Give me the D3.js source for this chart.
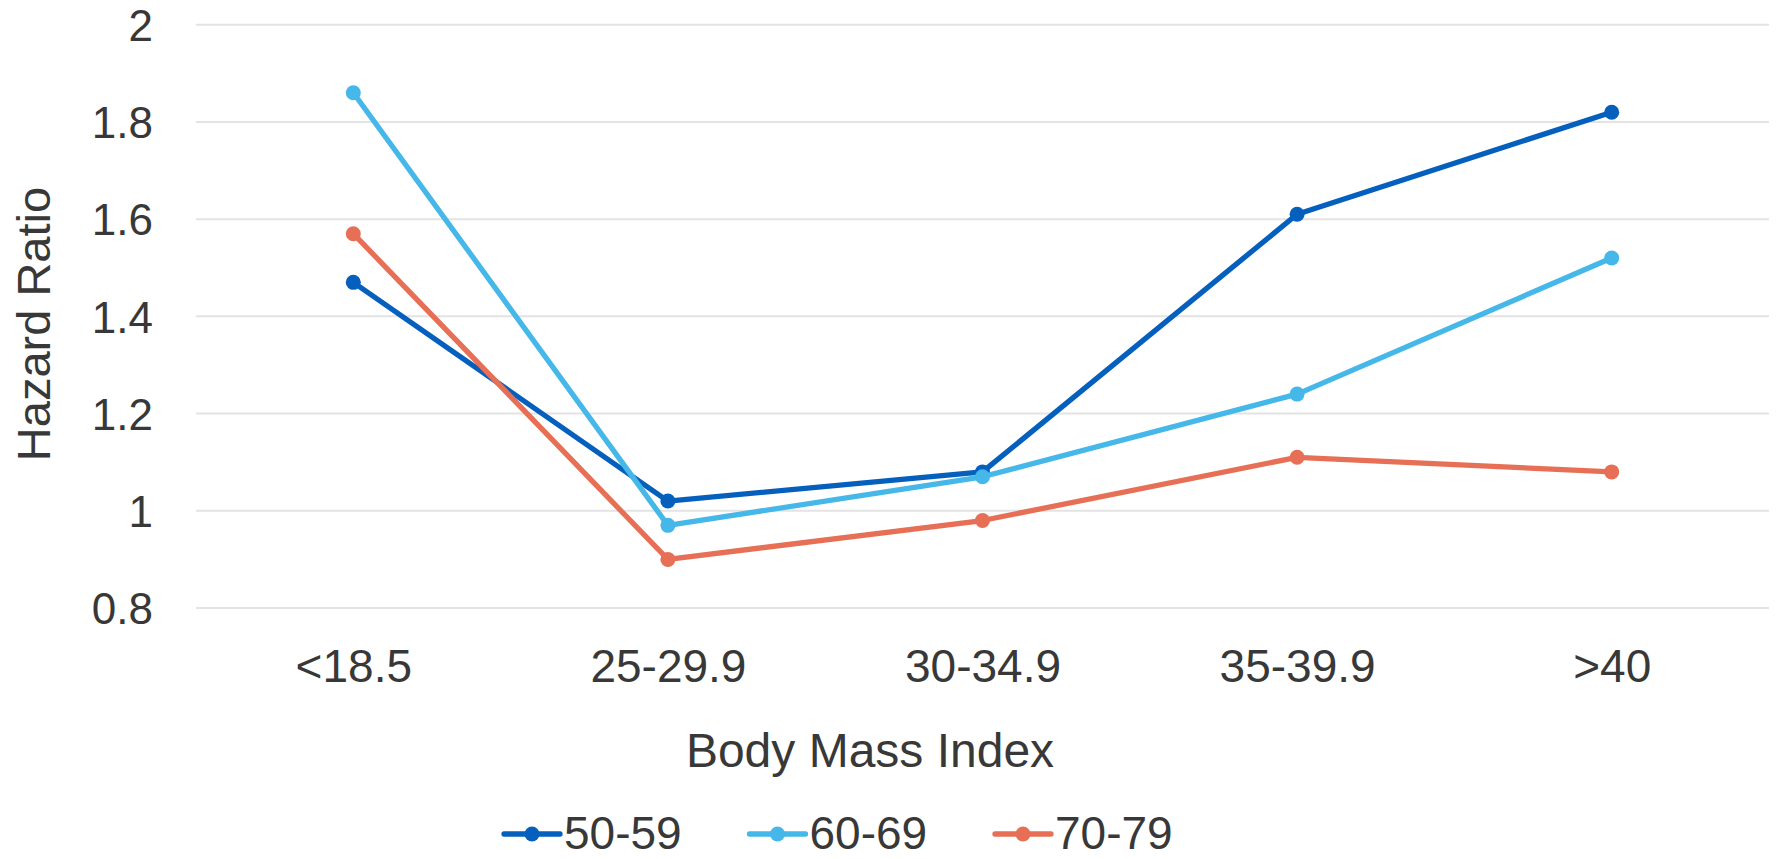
<!DOCTYPE html>
<html>
<head>
<meta charset="utf-8">
<script src="https://cdn.jsdelivr.net/npm/d3@7"></script>
<style>
  html, body { margin: 0; padding: 0; background: #ffffff; }
  svg { display: block; font-family: "Liberation Sans", Arial, sans-serif; }
</style>
</head>
<body>
<svg id="chart" width="1783" height="859"></svg>
<script>
// BMI categories on the x axis
const categories = ["<18.5", "25-29.9", "30-34.9", "35-39.9", ">40"];

// Hazard ratios by age group
const seriesNames = ["50-59", "60-69", "70-79"];
const hr5059 = [1.47, 1.02, 1.08, 1.61, 1.82];
const hr6069 = [1.86, 0.97, 1.07, 1.24, 1.52];
const hr7079 = [1.57, 0.90, 0.98, 1.11, 1.08];

// Y axis tick values
const yTicks = [0.8, 1, 1.2, 1.4, 1.6, 1.8, 2];

const colors = ["#0560BD", "#45B7E8", "#E66F55"];
const seriesValues = [hr5059, hr6069, hr7079];
const series = seriesNames.map((name, i) => ({ name, values: seriesValues[i], color: colors[i] }));

const textColor = "#383838";
const svg = d3.select("#chart");

const x = d3.scalePoint().domain(categories).range([196, 1769]).padding(0.5);
const y = d3.scaleLinear().domain([0.8, 2]).range([608, 24.7]);

// Horizontal gridlines
svg.append("g")
  .selectAll("line")
  .data(yTicks)
  .join("line")
  .attr("x1", 196).attr("x2", 1769)
  .attr("y1", d => y(d)).attr("y2", d => y(d))
  .attr("stroke", "#e3e3e3")
  .attr("stroke-width", 2);

// Y axis tick labels
const yAxis = d3.axisLeft(y).tickValues(yTicks).tickSize(0).tickPadding(0).tickFormat(d3.format("~g"));
const yg = svg.append("g").attr("transform", "translate(153,0)").call(yAxis);
yg.select(".domain").remove();
yg.selectAll("text")
  .attr("x", 0)
  .attr("dy", "0.36em")
  .attr("fill", textColor)
  .style("font-size", "44px")
  .style("font-family", "'Liberation Sans', Arial, sans-serif");

// X axis tick labels
const xAxis = d3.axisBottom(x).tickSize(0).tickPadding(0);
const xg = svg.append("g").attr("transform", "translate(0,682)").call(xAxis);
xg.select(".domain").remove();
xg.selectAll("text")
  .attr("y", 0)
  .attr("dy", 0)
  .attr("fill", textColor)
  .style("font-size", "46px")
  .style("font-family", "'Liberation Sans', Arial, sans-serif");

// Axis titles
svg.append("text")
  .attr("x", 870).attr("y", 767)
  .attr("text-anchor", "middle")
  .attr("fill", textColor)
  .style("font-size", "48px")
  .text("Body Mass Index");

svg.append("text")
  .attr("transform", "translate(50,324) rotate(-90)")
  .attr("text-anchor", "middle")
  .attr("fill", textColor)
  .style("font-size", "47px")
  .text("Hazard Ratio");

// Lines with markers
const line = d3.line()
  .x((d, i) => x(categories[i]))
  .y(d => y(d));

const sg = svg.append("g")
  .selectAll("g")
  .data(series)
  .join("g");

sg.append("path")
  .attr("d", d => line(d.values))
  .attr("fill", "none")
  .attr("stroke", d => d.color)
  .attr("stroke-width", 5.3)
  .attr("stroke-linejoin", "round");

sg.selectAll("circle")
  .data(d => d.values.map((v, i) => ({ v, i, color: d.color })))
  .join("circle")
  .attr("cx", d => x(categories[d.i]))
  .attr("cy", d => y(d.v))
  .attr("r", 7.5)
  .attr("fill", d => d.color);

// Legend
const legend = svg.append("g").attr("transform", "translate(504,834)");
const item = legend.selectAll("g")
  .data(series)
  .join("g")
  .attr("transform", (d, i) => `translate(${i * 245.5},0)`);

item.append("line")
  .attr("x1", 0).attr("x2", 56)
  .attr("y1", 0).attr("y2", 0)
  .attr("stroke", d => d.color)
  .attr("stroke-width", 5.3)
  .attr("stroke-linecap", "round");

item.append("circle")
  .attr("cx", 28).attr("cy", 0).attr("r", 7.5)
  .attr("fill", d => d.color);

item.append("text")
  .attr("x", 60).attr("y", 15)
  .attr("fill", textColor)
  .style("font-size", "46px")
  .text(d => d.name);
</script>
</body>
</html>
